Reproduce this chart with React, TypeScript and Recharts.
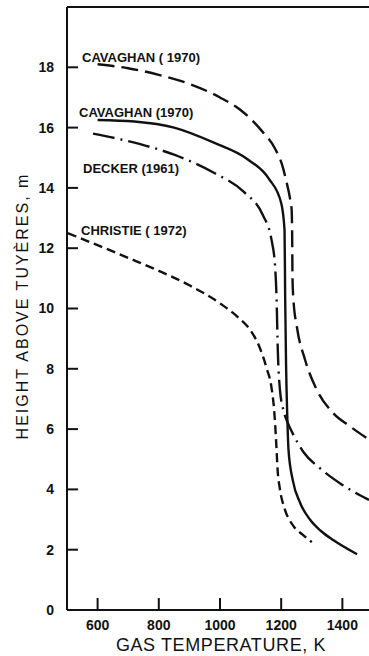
import { LineChart, Line, XAxis, YAxis, ReferenceLine } from 'recharts'

// Cavaghan (1970), upper curve - long dashes
const cavaghanUpperT = [600, 700, 800, 900, 1000, 1065, 1140, 1180, 1205, 1218, 1228, 1234, 1236, 1237, 1240, 1251, 1278, 1316, 1370, 1425, 1487]
const cavaghanUpperH = [18.1, 17.97, 17.75, 17.45, 17.0, 16.6, 15.85, 15.3, 14.7, 14.17, 13.7, 13.3, 12.3, 11.0, 10.3, 9.41, 8.3, 7.31, 6.53, 6.09, 5.65]

// Cavaghan (1970), lower curve - solid
const cavaghanLowerT = [600, 720, 850, 980, 1090, 1160, 1200, 1211, 1213, 1216, 1220, 1224, 1238, 1262, 1294, 1330, 1370, 1448]
const cavaghanLowerH = [16.25, 16.2, 16.0, 15.5, 14.95, 14.3, 13.5, 12.6, 10.4, 8.1, 6.4, 5.3, 4.3, 3.55, 3.0, 2.62, 2.32, 1.85]

// Decker (1961) - dash-dot
const deckerT = [585, 700, 850, 980, 1080, 1140, 1168, 1180, 1185, 1189, 1196, 1208, 1222, 1238, 1272, 1327, 1400, 1487]
const deckerH = [15.8, 15.55, 15.1, 14.5, 13.85, 13.1, 12.3, 11.4, 10.3, 8.6, 7.3, 6.6, 6.2, 5.85, 5.25, 4.7, 4.15, 3.65]

// Christie (1972) - short dashes
const christieT = [503, 600, 700, 800, 900, 1000, 1060, 1100, 1130, 1153, 1168, 1178, 1184, 1188, 1196, 1210, 1239, 1270, 1300]
const christieH = [12.5, 12.1, 11.68, 11.25, 10.77, 10.17, 9.7, 9.27, 8.7, 8.0, 7.4, 6.5, 5.5, 4.7, 4.0, 3.4, 2.8, 2.5, 2.25]

const xTicks = [600, 800, 1000, 1200, 1400]
const yTicks = [0, 2, 4, 6, 8, 10, 12, 14, 16, 18]
const xDomain: [number, number] = [500, 1487]
const yDomain: [number, number] = [0, 20]

const toPoints = (t: number[], h: number[]) => t.map((v, i) => ({ t: v, h: h[i] }))

const FONT = '"Liberation Sans", Arial, sans-serif'
const INK = '#111'

// chart frame
const W = 369
const H = 656
const PLOT_L = 67
const PLOT_T = 7
const PLOT_B = 610
const Y_MARGIN = 13
const X_MARGIN = 10

// same linear maps the axes use, for the inward tick marks
const px = (t: number) => PLOT_L + ((t - xDomain[0]) / (xDomain[1] - xDomain[0])) * (W - PLOT_L)
const py = (h: number) => PLOT_B - ((h - yDomain[0]) / (yDomain[1] - yDomain[0])) * (PLOT_B - PLOT_T)

const tickText = { fill: INK, fontSize: 14, fontFamily: FONT, fontWeight: 600 }

export default function App() {
  const lineStroke = { stroke: INK, strokeWidth: 2 }

  return (
    <div style={{ position: 'absolute', left: 0, top: 0, width: W, height: H, background: '#fff' }}>
      <LineChart width={W} height={H} margin={{ top: PLOT_T, right: 0, left: 0, bottom: 0 }}>
        <XAxis
          dataKey="t"
          type="number"
          domain={xDomain}
          ticks={xTicks}
          allowDataOverflow
          height={H - PLOT_B}
          tickSize={0}
          tickMargin={X_MARGIN}
          tick={tickText}
          axisLine={lineStroke}
          tickLine={false}
        />
        <YAxis
          type="number"
          domain={yDomain}
          ticks={yTicks}
          width={PLOT_L}
          tickSize={0}
          tickMargin={Y_MARGIN}
          tick={tickText}
          axisLine={lineStroke}
          tickLine={false}
        />
        <ReferenceLine y={20} stroke={INK} strokeWidth={2} />
        <Line
          data={toPoints(cavaghanUpperT, cavaghanUpperH)}
          dataKey="h"
          type="monotone"
          stroke={INK}
          strokeWidth={2.4}
          strokeDasharray="17 7"
          dot={false}
          isAnimationActive={false}
        />
        <Line
          data={toPoints(cavaghanLowerT, cavaghanLowerH)}
          dataKey="h"
          type="monotone"
          stroke={INK}
          strokeWidth={2.4}
          dot={false}
          isAnimationActive={false}
        />
        <Line
          data={toPoints(deckerT, deckerH)}
          dataKey="h"
          type="monotone"
          stroke={INK}
          strokeWidth={2.4}
          strokeDasharray="22 6 2 6"
          dot={false}
          isAnimationActive={false}
        />
        <Line
          data={toPoints(christieT, christieH)}
          dataKey="h"
          type="monotone"
          stroke={INK}
          strokeWidth={2.4}
          strokeDasharray="9 5"
          dot={false}
          isAnimationActive={false}
        />
      </LineChart>
      <svg
        width={W}
        height={H}
        style={{ position: 'absolute', left: 0, top: 0, pointerEvents: 'none' }}
        fontFamily={FONT}
        fill={INK}
      >
        <g stroke={INK} strokeWidth={2}>
          {yTicks.filter((v) => v > 0).map((v) => (
            <line key={`y${v}`} x1={PLOT_L} x2={PLOT_L + 11} y1={py(v)} y2={py(v)} />
          ))}
          {xTicks.map((v) => (
            <line key={`x${v}`} x1={px(v)} x2={px(v)} y1={PLOT_B} y2={PLOT_B - 12} />
          ))}
        </g>
        <g fontSize={13} fontWeight="bold">
          <text x={82} y={62}>CAVAGHAN ( 1970)</text>
          <text x={79} y={117}>CAVAGHAN (1970)</text>
          <text x={83} y={173}>DECKER (1961)</text>
          <text x={81} y={235}>CHRISTIE ( 1972)</text>
        </g>
        <text x={221} y={651} fontSize={18} letterSpacing={0.6} textAnchor="middle">
          GAS TEMPERATURE, K
        </text>
        <text
          x={0}
          y={0}
          fontSize={16}
          letterSpacing={2}
          textAnchor="middle"
          transform="translate(28 306) rotate(-90)"
        >
          HEIGHT ABOVE TUYÈRES, m
        </text>
      </svg>
    </div>
  )
}
